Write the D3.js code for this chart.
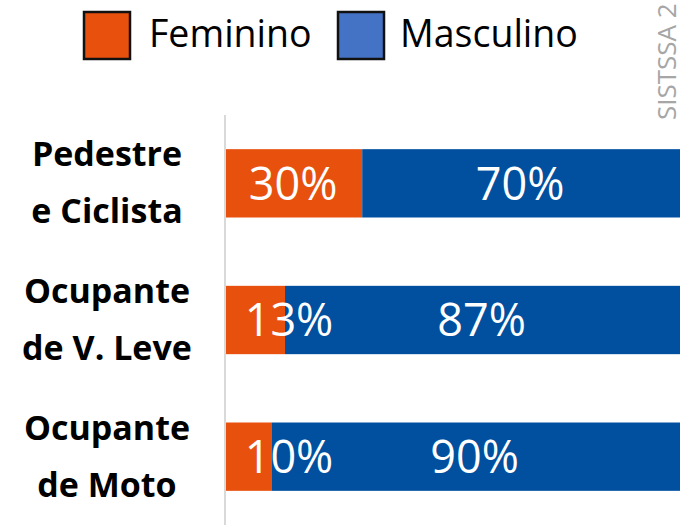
<!DOCTYPE html>
<html>
<head>
<meta charset="utf-8">
<script src="https://cdn.jsdelivr.net/npm/d3@7"></script>
<style>
  body { margin: 0; background: #fff; }
  svg { display: block; font-family: "Open Sans", sans-serif; }
</style>
</head>
<body>
<div id="chart"></div>
<script>
  // chart data
  var categories = [["Pedestre", "e Ciclista"], ["Ocupante", "de V. Leve"], ["Ocupante", "de Moto"]];
  var feminino = [30, 13, 10];
  var masculino = [70, 87, 90];
  var seriesNames = ["Feminino", "Masculino"];

  var width = 685, height = 525;
  var margin = {top: 115, right: 5, bottom: 0, left: 226};

  var svg = d3.select("#chart").append("svg")
    .attr("width", width)
    .attr("height", height);

  var x = d3.scaleLinear().domain([0, 100]).range([margin.left, width - margin.right]);
  var y = d3.scaleBand().domain(d3.range(categories.length))
    .range([margin.top, height]).paddingInner(0.5).paddingOuter(0.25);

  // axis line
  svg.append("line")
    .attr("x1", margin.left - 1).attr("x2", margin.left - 1)
    .attr("y1", margin.top).attr("y2", height)
    .attr("stroke", "#d9d9d9").attr("stroke-width", 2);

  var rows = categories.map(function (c, i) {
    return {i: i, label: c, segs: [
      {v: feminino[i], x0: 0, color: "#e8500e"},
      {v: masculino[i], x0: feminino[i], color: "#00509f"}
    ]};
  });

  var g = svg.selectAll("g.row").data(rows).enter().append("g").attr("class", "row");

  g.selectAll("rect").data(function (d) { return d.segs; }).enter().append("rect")
    .attr("x", function (d) { return x(d.x0); })
    .attr("width", function (d) { return x(d.x0 + d.v) - x(d.x0); })
    .attr("y", function () { return y(d3.select(this.parentNode).datum().i); })
    .attr("height", y.bandwidth())
    .attr("fill", function (d) { return d.color; });

  g.selectAll("text.val").data(function (d) { return d.segs; }).enter().append("text")
    .attr("class", "val")
    .attr("x", function (d) {
      var c = (x(d.x0) + x(d.x0 + d.v)) / 2;
      return Math.max(c - 1, x(d.x0) + 63);
    })
    .attr("y", function () { return y(d3.select(this.parentNode).datum().i) + y.bandwidth() / 2; })
    .attr("dy", "0.36em")
    .attr("text-anchor", "middle")
    .attr("fill", "#fff")
    .style("font-size", "45px")
    .text(function (d) { return d.v + "%"; });

  // category labels
  g.append("text")
    .attr("text-anchor", "middle")
    .style("font-size", "34px").style("font-weight", "bold")
    .attr("fill", "#000")
    .selectAll("tspan").data(function (d) {
      var cy = y(d.i) + y.bandwidth() / 2;
      return d.label.map(function (t, k) { return {t: t, y: cy - 17 + k * 57}; });
    }).enter().append("tspan")
    .attr("x", 107)
    .attr("y", function (d) { return d.y; })
    .text(function (d) { return d.t; });

  // legend
  var legendColors = ["#e8500e", "#4472c4"];
  var legendX = [84, 338];
  var lg = svg.selectAll("g.legend").data(seriesNames).enter().append("g")
    .attr("class", "legend")
    .attr("transform", function (d, i) { return "translate(" + legendX[i] + ",12)"; });
  lg.append("rect")
    .attr("width", 46).attr("height", 47)
    .attr("fill", function (d, i) { return legendColors[i]; })
    .attr("stroke", "#111").attr("stroke-width", 2.5);
  lg.append("text")
    .attr("x", function (d, i) { return i ? 62 : 65; }).attr("y", 35)
    .style("font-size", "37.5px")
    .attr("fill", "#000")
    .text(function (d) { return d; });

  // source note (cut at the top edge, as in the original)
  svg.append("text")
    .attr("transform", "translate(676,120) rotate(-90)")
    .style("font-size", "26px")
    .attr("fill", "#a6a6a6")
    .text("SISTSSA 2");
</script>
</body>
</html>
